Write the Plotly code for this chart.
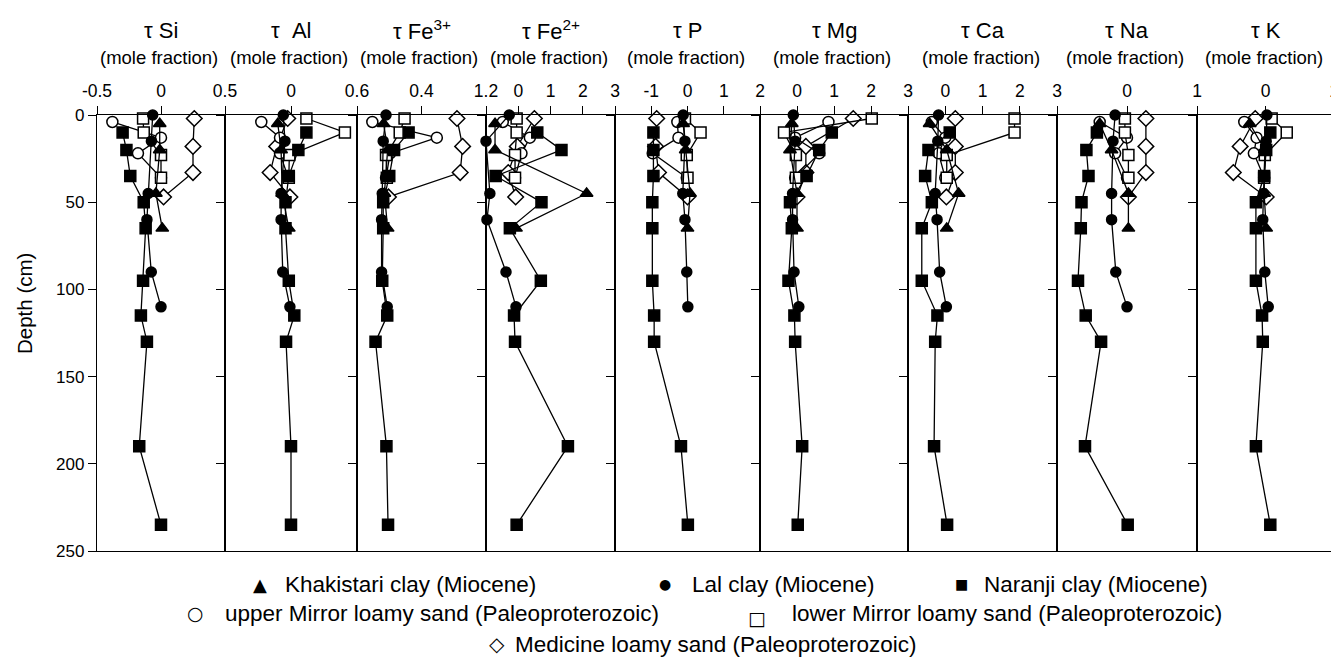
import plotly.graph_objects as go

# ---------------- data ----------------
elements = ["Si", "Al", "Fe3", "Fe2", "P", "Mg", "Ca", "Na", "K"]
titles = ["τ Si", "τ  Al", "τ Fe<sup>3+</sup>", "τ Fe<sup>2+</sup>", "τ P", "τ Mg", "τ Ca", "τ Na", "τ K"]
x_ranges = [[-0.5, 0.5], [-0.6, 0.6], [-0.4, 1.2], [-1, 3], [-2, 2], [-1, 3], [-1, 3], [-1, 1], [-1, 1]]
x_tickvals = [[-0.5, 0, 0.5], [0, 0.6], [0.4, 1.2], [0, 1, 2, 3], [-1, 0, 1, 2], [0, 1, 2, 3], [0, 1, 2, 3], [0, 1], [0, 1]]
x_ticktext = [["-0.5", "0", "0.5"], ["0", "0.6"], ["0.4", "1.2"], ["0", "1", "2", "3"], ["-1", "0", "1", "2"],
              ["0", "1", "2", "3"], ["0", "1", "2", "3"], ["0", "1"], ["0", "1"]]
y_ticks = [0, 50, 100, 150, 200, 250]

depth_khakistari = [5, 20, 45, 65]
depth_lal = [0, 15, 45, 60, 90, 110]
depth_naranji = [10, 20, 35, 50, 65, 95, 115, 130, 190, 235]
depth_upper_mirror = [4, 13, 22, 36]
depth_lower_mirror = [2, 10, 23, 36]
depth_medicine = [2, 18, 33, 47]

# tau values, one list per element (order as in `elements`)
khakistari = [
    [-0.01, -0.01, -0.04, 0.01],
    [-0.12, -0.09, -0.08, -0.02],
    [-0.07, -0.02, -0.06, -0.02],
    [-0.72, -0.72, 2.12, -0.07],
    [-0.12, -0.05, 0.07, 0.0],
    [-0.14, -0.19, 0.0, 0.0],
    [-0.42, 0.04, 0.36, 0.04],
    [-0.39, -0.22, 0.02, 0.02],
    [-0.23, -0.01, -0.02, 0.01],
]
lal = [
    [-0.065, -0.075, -0.10, -0.11, -0.076, 0.0],
    [-0.07, -0.055, -0.09, -0.09, -0.075, -0.01],
    [-0.04, -0.075, -0.087, -0.095, -0.095, -0.025],
    [-0.28, -1.0, -0.88, -0.97, -0.38, -0.07],
    [-0.12, -0.07, -0.13, -0.07, -0.02, 0.01],
    [-0.1, -0.05, -0.12, -0.12, -0.08, 0.05],
    [-0.18, -0.2, -0.27, -0.22, -0.15, 0.03],
    [-0.17, -0.2, -0.22, -0.22, -0.16, 0.0],
    [0.02, 0.01, -0.03, -0.04, -0.01, 0.04],
]
naranji = [
    [-0.30, -0.27, -0.24, -0.135, -0.12, -0.14, -0.157, -0.11, -0.17, 0.0],
    [0.14, 0.067, -0.02, -0.05, -0.05, -0.02, 0.03, -0.045, 0.0, 0.0],
    [0.24, 0.06, 0.0, -0.075, -0.075, -0.087, -0.025, -0.17, -0.035, -0.015],
    [0.59, 1.34, -0.7, 0.72, -0.26, 0.70, -0.13, -0.1, 1.54, -0.05],
    [-0.94, -0.94, -0.94, -0.97, -0.97, -0.97, -0.92, -0.92, -0.18, 0.01],
    [0.94, 0.6, 0.26, -0.19, -0.14, -0.23, -0.07, -0.05, 0.14, 0.02],
    [0.12, -0.45, -0.54, -0.36, -0.63, -0.63, -0.21, -0.27, -0.3, 0.05],
    [-0.43, -0.58, -0.55, -0.65, -0.66, -0.70, -0.59, -0.37, -0.6, 0.01],
    [0.07, 0.01, -0.02, -0.14, -0.14, -0.14, -0.05, -0.04, -0.14, 0.07],
]
upper_mirror = [
    [-0.38, 0.0, -0.18, 0.0],
    [-0.27, -0.1, -0.1, -0.025],
    [-0.21, 0.59, 0.01, -0.04],
    [-0.48, 0.36, 0.10, -0.1],
    [-0.28, -0.25, -0.96, -0.02],
    [0.85, -0.05, 0.6, -0.05],
    [-0.36, 0.0, -0.18, 0.0],
    [-0.39, 0.0, -0.17, 0.0],
    [-0.31, -0.13, -0.17, -0.02],
]
lower_mirror = [
    [-0.14, -0.135, 0.0, 0.0],
    [0.14, 0.49, -0.015, -0.02],
    [0.19, 0.13, -0.04, -0.03],
    [-0.05, -0.05, -0.1, -0.1],
    [-0.07, 0.36, -0.02, 0.0],
    [2.02, -0.35, -0.03, -0.03],
    [1.86, 1.86, 0.04, 0.04],
    [-0.03, -0.03, 0.02, 0.02],
    [0.09, 0.31, -0.01, -0.02],
]
medicine = [
    [0.26, 0.25, 0.25, 0.02],
    [-0.03, -0.13, -0.19, -0.01],
    [0.84, 0.91, 0.88, -0.01],
    [0.5, -0.03, -0.31, -0.08],
    [-0.85, -0.88, -0.8, 0.0],
    [1.52, 0.24, 0.24, 0.0],
    [0.27, 0.27, 0.27, 0.03],
    [0.27, 0.27, 0.27, 0.02],
    [-0.15, -0.37, -0.47, 0.01],
]

legend_labels = ["Khakistari clay (Miocene)", "Lal clay (Miocene)", "Naranji clay (Miocene)",
                 "upper Mirror loamy sand (Paleoproterozoic)", "lower Mirror loamy sand (Paleoproterozoic)",
                 "Medicine loamy sand (Paleoproterozoic)"]
legend_glyphs = ["▲", "●", "■", "○", "□", "◇"]

# ---------------- layout geometry (page pixels) ----------------
OFF = 8                      # default body margin of the html page
W, H = 1339 - OFF, 666 - OFF
edges_px = [97, 225, 357, 486, 615, 760, 908, 1057, 1197, 1334]
y_top_px, y_bot_px = 115, 551
FONT = "Liberation Sans, Arial, sans-serif"
SYMFONT = "DejaVu Sans, sans-serif"


def px(x):
    return (x - OFF) / W


def py(y):
    return 1 - (y - OFF) / H


series = [
    (depth_medicine, medicine, "diamond", "white", 12),
    (depth_upper_mirror, upper_mirror, "circle", "white", 11),
    (depth_lower_mirror, lower_mirror, "square", "white", 11),
    (depth_khakistari, khakistari, "triangle-up", "black", 11),
    (depth_lal, lal, "circle", "black", 10),
    (depth_naranji, naranji, "square", "black", 11),
]

fig = go.Figure()
layout = dict(
    width=W, height=H,
    margin=dict(l=0, r=0, t=0, b=0),
    paper_bgcolor="white", plot_bgcolor="white",
    showlegend=False,
    font=dict(family=FONT, color="black"),
)
ydom = [py(y_bot_px), py(y_top_px)]
annotations = []

for i, el in enumerate(elements):
    n = i + 1
    xa = "x" if n == 1 else f"x{n}"
    ya = "y" if n == 1 else f"y{n}"
    for depth, vals, sym, fill, size in series:
        fig.add_trace(go.Scatter(
            x=vals[i], y=depth, xaxis=xa, yaxis=ya, mode="lines+markers",
            line=dict(color="black", width=1.3),
            marker=dict(symbol=sym, color=fill, size=size, line=dict(color="black", width=1.5)),
            cliponaxis=False, hoverinfo="skip",
        ))
    xdom = [px(edges_px[i]), px(edges_px[i + 1])]
    layout["xaxis" if n == 1 else f"xaxis{n}"] = dict(
        domain=xdom, range=x_ranges[i], side="top", anchor=ya,
        tickvals=x_tickvals[i], ticktext=x_ticktext[i],
        ticks="outside", ticklen=8, tickwidth=1.3, tickcolor="black",
        ticklabelstandoff=2,
        showline=True, linecolor="black", linewidth=1.3, mirror=True,
        showgrid=False, zeroline=False, automargin=False,
        tickfont=dict(size=17.5, family=FONT),
    )
    layout["yaxis" if n == 1 else f"yaxis{n}"] = dict(
        domain=ydom, range=[250, 0], anchor=xa,
        tickvals=y_ticks, showticklabels=(n == 1),
        ticks="outside", ticklen=8, tickwidth=1.3, tickcolor="black",
        showline=True, linecolor="black", linewidth=1.3, mirror=True,
        showgrid=False, zeroline=False, automargin=False,
        tickfont=dict(size=17, family=FONT),
    )
    cx = (edges_px[i] + edges_px[i + 1]) / 2
    annotations.append(dict(text=titles[i], x=px(cx), y=py(30), xref="paper", yref="paper",
                            showarrow=False, font=dict(size=22, family=FONT), xanchor="center", yanchor="middle"))
    annotations.append(dict(text="(mole fraction)", x=px(cx - 2), y=py(57), xref="paper", yref="paper",
                            showarrow=False, font=dict(size=18.5, family=FONT), xanchor="center", yanchor="middle"))

annotations.append(dict(text="Depth (cm)", x=px(25), y=py(304), xref="paper", yref="paper",
                        showarrow=False, textangle=-90, font=dict(size=20.5, family=FONT),
                        xanchor="center", yanchor="middle"))

# legend: glyph (center x, y, size) and text (left x, y)
legend_glyph_pos = [(260, 584, 18), (665, 584, 14), (961, 584, 14), (195, 613, 19), (757, 618, 19), (497, 644, 20)]
legend_text_pos = [(283, 584), (690, 584), (982, 584), (223, 613), (790, 613), (513, 644)]
for g, (gx, gy, gs), lab, (tx, ty) in zip(legend_glyphs, legend_glyph_pos, legend_labels, legend_text_pos):
    annotations.append(dict(text=g, x=px(gx), y=py(gy), xref="paper", yref="paper", showarrow=False,
                            font=dict(size=gs, family=SYMFONT), xanchor="center", yanchor="middle"))
    annotations.append(dict(text=lab, x=px(tx), y=py(ty), xref="paper", yref="paper", showarrow=False,
                            font=dict(size=22.5, family=FONT), xanchor="left", yanchor="middle"))

layout["annotations"] = annotations
fig.update_layout(**layout)
fig.write_html("out.html")
